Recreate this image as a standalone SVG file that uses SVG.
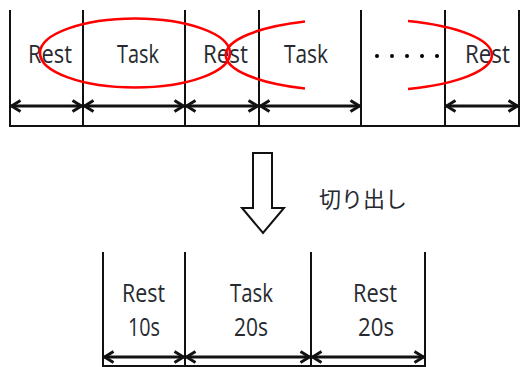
<svg xmlns="http://www.w3.org/2000/svg" width="520" height="367" viewBox="0 0 520 367">
  <defs>
    <marker id="chev" viewBox="0 0 12 14" refX="11" refY="7" markerWidth="12" markerHeight="14" markerUnits="userSpaceOnUse" orient="auto-start-reverse">
      <path d="M1.5,1.5 L10.5,7 L1.5,12.5" fill="none" stroke="#111" stroke-width="3" stroke-linejoin="miter"/>
    </marker>
    <style>
      .rule { stroke: #111; stroke-width: 2; fill: none; }
      .span { stroke: #111; stroke-width: 2.8; fill: none; marker-start: url(#chev); marker-end: url(#chev); }
      .loop { stroke: #f00; stroke-width: 2.6; fill: none; }
      .lbl { font-family: "Open Sans", "Noto Sans", sans-serif; font-size: 26px; fill: #262a30; text-anchor: start; }
      .jp { font-family: "Noto Sans CJK JP", "Noto Sans", sans-serif; font-size: 22px; fill: #262a30; }
    </style>
  </defs>

  <rect width="520" height="367" fill="#fff"/>

  <!-- upper timeline: alternating rest / task blocks -->
  <g id="timeline">
    <path class="rule" d="M10,10 V126 M83,10 V126 M185,10 V126 M259,10 V126 M361,10 V126 M445,10 V126 M519,10 V126 M9,126 H520"/>
  </g>

  <g id="block-rest-1"><text class="lbl" x="28" y="63" textLength="44" lengthAdjust="spacingAndGlyphs">Rest</text></g>
  <g id="block-task-1"><text class="lbl" x="117" y="63" textLength="42" lengthAdjust="spacingAndGlyphs">Task</text></g>
  <g id="block-rest-2"><text class="lbl" x="203" y="63" textLength="45" lengthAdjust="spacingAndGlyphs">Rest</text></g>
  <g id="block-task-2"><text class="lbl" x="284" y="63" textLength="44" lengthAdjust="spacingAndGlyphs">Task</text></g>
  <g id="block-gap">
    <circle cx="377" cy="56" r="2"/>
    <circle cx="392" cy="56" r="2"/>
    <circle cx="407" cy="56" r="2"/>
    <circle cx="422" cy="56" r="2"/>
    <circle cx="437" cy="56" r="2"/>
  </g>
  <g id="block-rest-n"><text class="lbl" x="465" y="63" textLength="45" lengthAdjust="spacingAndGlyphs">Rest</text></g>

  <!-- red loops marking each extracted epoch -->
  <g id="epoch-marks">
    <ellipse class="loop" cx="135" cy="53" rx="95" ry="34.5"/>
    <path class="loop" d="M305,21.5 A125,36 0 0 0 305,88.5"/>
    <path class="loop" d="M408,21 A125,36 0 0 1 408,89"/>
  </g>

  <!-- extraction arrow -->
  <g id="extract-arrow">
    <path d="M253,153 H272 V208 H284 L263,233 L242,208 H253 Z" fill="#fff" stroke="#111" stroke-width="2" stroke-linejoin="miter"/>
    <text class="jp" x="319" y="207">切り出し</text>
  </g>

  <!-- lower timeline: one extracted epoch -->
  <g id="epoch">
    <path class="rule" d="M103,252 V367 M185,252 V367 M311,252 V367 M425,252 V367 M102,366 H426"/>
  </g>
  <g id="epoch-rest-pre">
    <text class="lbl" x="122" y="302" textLength="43" lengthAdjust="spacingAndGlyphs">Rest</text>
    <text class="lbl" x="128" y="336" textLength="32" lengthAdjust="spacingAndGlyphs">10s</text>
  </g>
  <g id="epoch-task">
    <text class="lbl" x="230" y="302" textLength="43" lengthAdjust="spacingAndGlyphs">Task</text>
    <text class="lbl" x="234" y="336" textLength="34" lengthAdjust="spacingAndGlyphs">20s</text>
  </g>
  <g id="epoch-rest-post">
    <text class="lbl" x="353" y="302" textLength="44" lengthAdjust="spacingAndGlyphs">Rest</text>
    <text class="lbl" x="358" y="336" textLength="36" lengthAdjust="spacingAndGlyphs">20s</text>
  </g>

  <!-- duration spans -->
  <g id="connectors">
    <path class="span" d="M11,106 H82"/>
    <path class="span" d="M84,106 H184"/>
    <path class="span" d="M186,106 H258"/>
    <path class="span" d="M260,106 H360"/>
    <path class="span" d="M446,106 H518"/>
    <path class="span" d="M104,357 H184"/>
    <path class="span" d="M186,357 H310"/>
    <path class="span" d="M312,357 H424"/>
  </g>
</svg>
